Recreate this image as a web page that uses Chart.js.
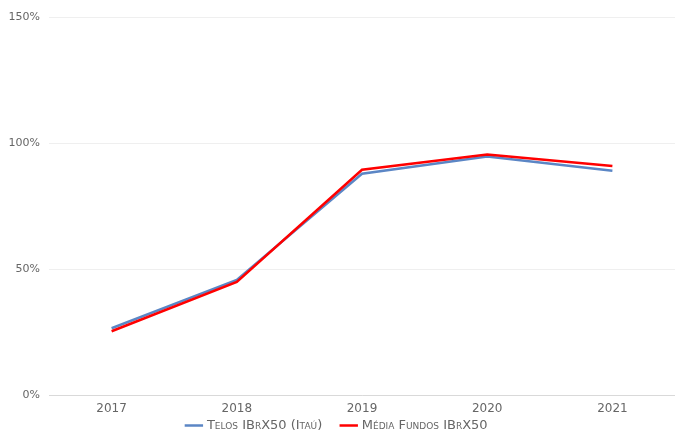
<!DOCTYPE html>
<html>
<head>
<meta charset="utf-8">
<script src="https://cdn.jsdelivr.net/npm/chart.js"></script>
<style>
  body { margin: 0; background: #fff; }
  #wrap { width: 675px; height: 431px; }
</style>
</head>
<body>
<div id="wrap"><canvas id="retChart"></canvas></div>
<script>
    // Rentabilidade acumulada (%)
    const years = ['2017', '2018', '2019', '2020', '2021'];
    const telos = [26.7, 45.8, 87.9, 94.7, 89.1];
    const mediaFundos = [25.5, 45.0, 89.5, 95.5, 91.0];

    // legend needs wide gaps between items but a tight box under the axis
    const legendTight = {
        id: 'legendTight',
        afterInit: function(chart) {
            const lg = chart.legend;
            const fit = lg.fit, draw = lg.draw;
            lg.fit = function() { fit.call(this); this.height = 10; };
            lg.draw = function() {
                const t = this.top;
                this.top = t - 23;
                draw.call(this);
                this.top = t;
            };
        }
    };

    const ctx = document.getElementById('retChart').getContext('2d');
    new Chart(ctx, {
        type: 'line',
        data: {
            labels: years,
            datasets: [
                {
                    label: 'Telos IBrX50 (Itaú)',
                    data: telos,
                    borderColor: '#5b86c5',
                    backgroundColor: '#5b86c5',
                    borderWidth: 2.5,
                    pointRadius: 0,
                    tension: 0,
                    fill: false,
                    order: 2
                },
                {
                    label: 'Média Fundos IBrX50',
                    data: mediaFundos,
                    borderColor: '#ff0000',
                    backgroundColor: '#ff0000',
                    borderWidth: 2.5,
                    pointRadius: 0,
                    tension: 0,
                    fill: false,
                    order: 1
                }
            ]
        },
        options: {
            responsive: true,
            maintainAspectRatio: false,
            animation: false,
            layout: { padding: { top: 17, right: 0, left: 0, bottom: -1 } },
            scales: {
                x: {
                    offset: true,
                    grid: { display: false, drawTicks: false },
                    border: { color: '#d9d9d9', width: 1 },
                    ticks: {
                        color: '#666666',
                        padding: 6,
                        font: { family: 'DejaVu Sans', size: 12 }
                    }
                },
                y: {
                    min: 0,
                    max: 150,
                    afterFit: function(axis) { axis.width = 49; },
                    grid: { color: '#efefef', drawTicks: false },
                    border: { display: false },
                    ticks: {
                        stepSize: 50,
                        color: '#666666',
                        padding: 9,
                        font: { family: 'DejaVu Sans', size: 11 },
                        callback: function(v) { return v + '%'; }
                    }
                }
            },
            plugins: {
                legend: {
                    position: 'bottom',
                    labels: {
                        usePointStyle: true,
                        pointStyle: 'line',
                        boxWidth: 14,
                        padding: 20,
                        color: '#666666',
                        // small caps like the original legend
                        font: { family: 'DejaVu Sans', size: 13, weight: 'small-caps' },
                        sort: function(a, b) { return a.datasetIndex - b.datasetIndex; }
                    }
                },
                tooltip: { enabled: false }
            }
        },
        plugins: [legendTight]
    });
</script>
</body>
</html>
